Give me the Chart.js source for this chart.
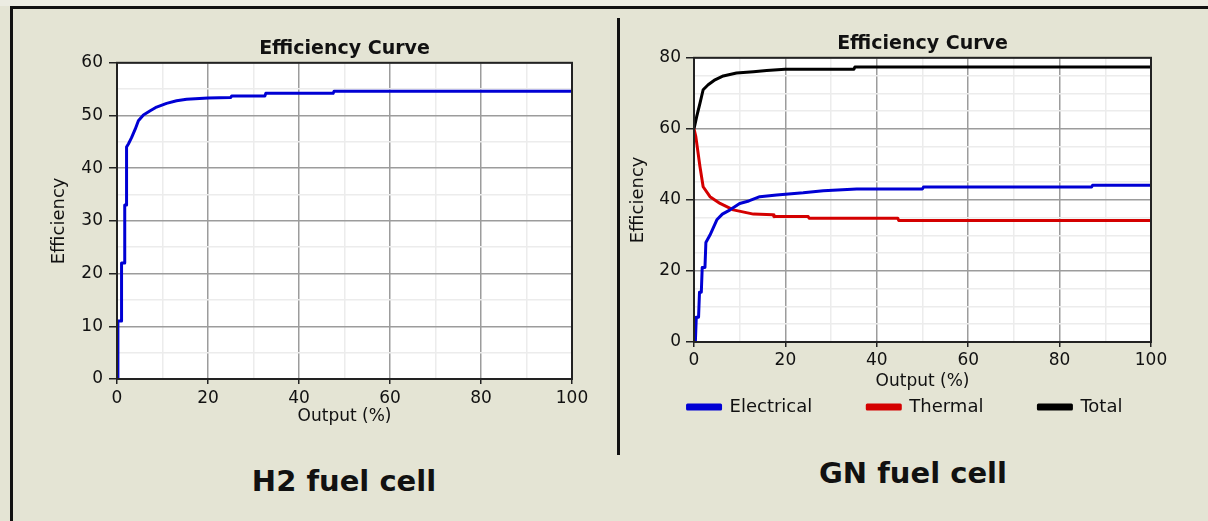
<!DOCTYPE html>
<html>
<head>
<meta charset="utf-8">
<script src="https://cdn.jsdelivr.net/npm/chart.js@4/dist/chart.umd.min.js"></script>
<style>
body{margin:0;background:#e4e4d4;width:1208px;height:521px;overflow:hidden;position:relative;font-family:"DejaVu Sans",sans-serif;}
.strip{position:absolute;left:0;top:0;width:1208px;height:6px;background:#ecece2;}
.hline{position:absolute;left:10px;top:6px;width:1198px;height:3px;background:#111;}
.vline{position:absolute;left:10px;top:6px;width:3px;height:515px;background:#111;}
.divider{position:absolute;left:617px;top:18px;width:3px;height:437px;background:#111;}
.cap{position:absolute;font-weight:bold;font-size:29px;color:#111;transform:translate(-50%,-50%);white-space:nowrap;}
canvas{position:absolute;}
</style>
</head>
<body>
<div class="strip"></div>
<div class="hline"></div>
<div class="vline"></div>
<div class="divider"></div>
<div style="position:absolute;left:0;top:0;width:620px;height:440px"><canvas id="h2"></canvas></div>
<div style="position:absolute;left:620px;top:0;width:570px;height:440px"><canvas id="gn"></canvas></div>
<div class="cap" style="left:344px;top:481px">H2 fuel cell</div>
<div class="cap" style="left:913px;top:473px">GN fuel cell</div>
<script>

// H2 fuel cell
const h2Output = [0, 0.2, 0.2, 1.0, 1.0, 1.7, 1.7, 2.1, 2.1, 2.5, 3.2, 4.0, 4.7, 5.8, 7.3, 8.7, 10.9, 13.1, 15.3, 20, 25, 25.2, 32.5, 32.7, 47.5, 47.7, 100];
const h2Eff = [0, 0, 11, 11, 22, 22, 33, 33, 44, 44.6, 45.8, 47.4, 49.0, 50.1, 50.9, 51.6, 52.3, 52.8, 53.1, 53.3, 53.4, 53.7, 53.7, 54.2, 54.2, 54.6, 54.6];

// GN fuel cell
const elecOutput = [0, 0.3, 0.5, 1.0, 1.2, 1.6, 1.8, 2.4, 2.6, 3.5, 5.0, 6.2, 7.9, 10, 12, 14.4, 18.1, 23.9, 28.3, 35.6, 50, 50.2, 87, 87.2, 100];
const elecEff = [0, 0, 7, 7, 14, 14, 21, 21, 28, 30.1, 34.4, 36, 37.2, 39, 39.7, 40.9, 41.4, 42, 42.6, 43.1, 43.1, 43.6, 43.6, 44.1, 44.1];
const thermOutput = [0, 0.4, 1.3, 2.0, 3.5, 5.7, 8.6, 13, 17.3, 17.5, 25, 25.2, 44.6, 44.8, 100];
const thermEff = [60, 57.8, 49.4, 43.7, 40.9, 39, 37.2, 36.0, 35.8, 35.3, 35.3, 34.8, 34.8, 34.2, 34.2];
const totalOutput = [0, 0.6, 1.3, 2.0, 3.1, 4.6, 6.4, 9.3, 13, 15.9, 19.9, 35, 35.2, 100];
const totalEff = [60, 63.5, 67.2, 71, 72.4, 73.8, 74.9, 75.7, 76.1, 76.4, 76.8, 76.8, 77.4, 77.4];

const xTicks = [0, 20, 40, 60, 80, 100];
const h2YTicks = [0, 10, 20, 30, 40, 50, 60];
const gnYTicks = [0, 20, 40, 60, 80];

Chart.defaults.font.family = '"DejaVu Sans", sans-serif';
Chart.defaults.color = '#111';

function pts(xs, ys){
return xs.map((x, i) => ({x: x, y: ys[i]}));
}

const frame = {
id: 'frame',
beforeDraw(chart){
const a = chart.chartArea;
const c = chart.ctx;
c.save();
c.fillStyle = '#fff';
c.fillRect(a.left, a.top, a.right - a.left, a.bottom - a.top);
c.restore();
},
afterDraw(chart){
const a = chart.chartArea;
const c = chart.ctx;
c.save();
c.strokeStyle = '#222';
c.lineWidth = 2;
c.strokeRect(a.left, a.top, a.right - a.left, a.bottom - a.top);
c.restore();
}
};

function gridOpts(major, tickLen){
return {
color: ctx => major.includes(ctx.tick.value) ? '#9c9c9c' : '#ececec',
lineWidth: 1.5,
tickLength: tickLen,
tickColor: ctx => major.includes(ctx.tick.value) ? '#222' : 'rgba(0,0,0,0)',
tickWidth: 1.5
};
}

function xAxis(height, titlePad, mirror, labelPad){
return {
type: 'linear',
min: 0,
max: 100,
ticks: {
stepSize: 10,
padding: labelPad,
mirror: mirror,
autoSkip: false,
minRotation: 0,
maxRotation: 0,
font: {size: 17},
callback: v => xTicks.includes(v) ? v : ''
},
grid: gridOpts(xTicks, 5),
border: {color: '#222', width: 2},
title: {display: true, text: 'Output (%)', font: {size: 17}, padding: {top: 0, bottom: titlePad}},
afterFit: s => { s.height = height; }
};
}

function yAxis(max, labels, width, titlePad, labelPad){
return {
min: 0,
max: max,
ticks: {
stepSize: 5,
padding: labelPad,
autoSkip: false,
font: {size: 17},
callback: v => labels.includes(v) ? v : ''
},
grid: gridOpts(labels, 8),
border: {color: '#222', width: 2},
title: {display: true, text: 'Efficiency', font: {size: 18}, padding: {top: titlePad, bottom: 0}},
afterFit: s => { s.width = width; }
};
}

const titleOpts = {
display: true,
text: 'Efficiency Curve',
fullSize: false,
font: {size: 19, weight: 'bold'},
color: '#111',
padding: {top: 0, bottom: 2}
};

function line(label, data, color){
return {
label: label,
data: data,
borderColor: color,
backgroundColor: color,
borderWidth: 3,
borderJoinStyle: 'round',
pointRadius: 0,
tension: 0,
fill: false
};
}

new Chart(document.getElementById('h2'), {
type: 'line',
data: {
datasets: [line('Efficiency', pts(h2Output, h2Eff), '#0000d4')]
},
options: {
responsive: true,
maintainAspectRatio: false,
animation: false,
layout: {padding: {left: 45, right: 48, top: 38, bottom: 11}},
scales: {
x: xAxis(50, 2, false, 4),
y: yAxis(60, h2YTicks, 72, 4, 6)
},
plugins: {
legend: {display: false},
title: titleOpts,
tooltip: {enabled: false}
}
},
plugins: [frame]
});

// right-hand spacer axis keeps the plot narrower than the legend row
const spacer = {
type: 'linear',
position: 'right',
display: true,
grid: {display: false, drawTicks: false},
ticks: {display: false},
border: {display: false},
afterFit: s => { s.width = 39; }
};

new Chart(document.getElementById('gn'), {
type: 'line',
data: {
datasets: [
line('Electrical', pts(elecOutput, elecEff), '#0000d4'),
line('Thermal', pts(thermOutput, thermEff), '#d40000'),
line('Total', pts(totalOutput, totalEff), '#000')
]
},
options: {
responsive: true,
maintainAspectRatio: false,
animation: false,
layout: {padding: {left: 0, right: 0, top: 33, bottom: 14}},
scales: {
x: xAxis(1, -49, true, -29),
y: yAxis(80, gnYTicks, 74, 8, 5),
yr: spacer
},
plugins: {
legend: {
position: 'bottom',
labels: {
boxWidth: 33,
boxHeight: 4,
padding: 55,
font: {size: 18},
color: '#111'
}
},
title: titleOpts,
tooltip: {enabled: false}
}
},
plugins: [frame]
});

</script>
</body>
</html>
